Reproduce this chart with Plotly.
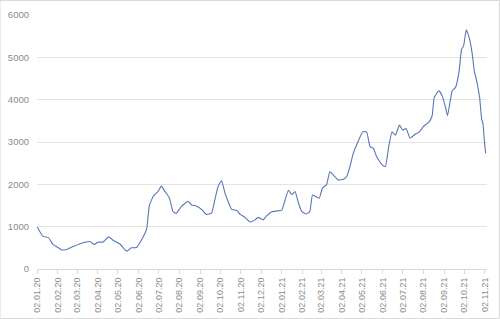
import plotly.graph_objects as go

dates = [
    "2020-01-02", "2020-01-11", "2020-01-19", "2020-01-26", "2020-02-01", "2020-02-08",
    "2020-02-15", "2020-02-25", "2020-03-11", "2020-03-21", "2020-03-28", "2020-04-02",
    "2020-04-10", "2020-04-18", "2020-04-25", "2020-05-05", "2020-05-15", "2020-05-22",
    "2020-05-30", "2020-06-06", "2020-06-14", "2020-06-18", "2020-06-24", "2020-07-01",
    "2020-07-06", "2020-07-11", "2020-07-18", "2020-07-23", "2020-07-28", "2020-08-05",
    "2020-08-15", "2020-08-20", "2020-08-27", "2020-09-04", "2020-09-11", "2020-09-19",
    "2020-09-24", "2020-09-29", "2020-10-04", "2020-10-09", "2020-10-14", "2020-10-19",
    "2020-10-27", "2020-11-01", "2020-11-08", "2020-11-16", "2020-11-23", "2020-11-28",
    "2020-12-05", "2020-12-10", "2020-12-18", "2020-12-25", "2021-01-02", "2021-01-07",
    "2021-01-12", "2021-01-17", "2021-01-22", "2021-01-27", "2021-02-01", "2021-02-08",
    "2021-02-13", "2021-02-17", "2021-02-22", "2021-02-27", "2021-03-04", "2021-03-10",
    "2021-03-15", "2021-03-20", "2021-03-28", "2021-04-04", "2021-04-09", "2021-04-14",
    "2021-04-19", "2021-04-27", "2021-05-03", "2021-05-09", "2021-05-14", "2021-05-19",
    "2021-05-24", "2021-06-01", "2021-06-06", "2021-06-11", "2021-06-16", "2021-06-21",
    "2021-06-27", "2021-07-02", "2021-07-07", "2021-07-13", "2021-07-21", "2021-07-27",
    "2021-08-02", "2021-08-10", "2021-08-15", "2021-08-18", "2021-08-25", "2021-08-30",
    "2021-09-04", "2021-09-07", "2021-09-11", "2021-09-14", "2021-09-19", "2021-09-24",
    "2021-09-28", "2021-10-01", "2021-10-05", "2021-10-10", "2021-10-14", "2021-10-17",
    "2021-10-21", "2021-10-25", "2021-10-28", "2021-10-30", "2021-11-01", "2021-11-03",
]
values = [
    1000, 770, 740, 580, 520, 450,
    460, 530, 620, 650, 580, 630,
    640, 760, 680, 590, 420, 500,
    510, 680, 950, 1500, 1720, 1830,
    1960, 1840, 1680, 1370, 1310, 1480,
    1600, 1510, 1490, 1410, 1290, 1320,
    1640, 1960, 2090, 1800, 1590, 1410,
    1380, 1290, 1220, 1110, 1160, 1220,
    1160, 1250, 1350, 1370, 1390, 1630,
    1860, 1760, 1830, 1560, 1360, 1300,
    1360, 1750, 1710, 1670, 1910, 1990,
    2300, 2220, 2100, 2120, 2180, 2420,
    2730, 3040, 3240, 3240, 2890, 2850,
    2650, 2460, 2420, 2890, 3240, 3160,
    3400, 3280, 3320, 3090, 3190, 3240,
    3370, 3470, 3620, 4050, 4210, 4090,
    3820, 3620, 3970, 4210, 4290, 4640,
    5190, 5270, 5650, 5430, 5070, 4680,
    4410, 4050, 3540, 3430, 3040, 2730,
]

tick_dates = [
    "2020-01-02", "2020-02-02", "2020-03-02", "2020-04-02", "2020-05-02", "2020-06-02",
    "2020-07-02", "2020-08-02", "2020-09-02", "2020-10-02", "2020-11-02", "2020-12-02",
    "2021-01-02", "2021-02-02", "2021-03-02", "2021-04-02", "2021-05-02", "2021-06-02",
    "2021-07-02", "2021-08-02", "2021-09-02", "2021-10-02", "2021-11-02",
]
tick_labels = [
    "02.01.20", "02.02.20", "02.03.20", "02.04.20", "02.05.20", "02.06.20",
    "02.07.20", "02.08.20", "02.09.20", "02.10.20", "02.11.20", "02.12.20",
    "02.01.21", "02.02.21", "02.03.21", "02.04.21", "02.05.21", "02.06.21",
    "02.07.21", "02.08.21", "02.09.21", "02.10.21", "02.11.21",
]
y_ticks = [0, 1000, 2000, 3000, 4000, 5000, 6000]

fig = go.Figure()
fig.add_trace(go.Scatter(
    x=dates, y=values, mode="lines",
    line=dict(color="#5577b5", width=1.1, shape="spline", smoothing=0.4),
    hoverinfo="skip",
))

fig.update_layout(
    width=500, height=319,
    margin=dict(l=37, r=13, t=15, b=50),
    paper_bgcolor="white", plot_bgcolor="white",
    showlegend=False,
    font=dict(family="Liberation Sans, Arial, sans-serif", size=10, color="#8c8c8c"),
    xaxis=dict(
        type="date", automargin=False,
        range=["2020-01-02", "2021-11-05"],
        tickmode="array", tickvals=tick_dates, ticktext=tick_labels,
        tickangle=-90,
        showgrid=False, zeroline=False,
        showline=True, linecolor="#d9d9d9", linewidth=1,
        ticks="outside", ticklen=4, tickcolor="#d9d9d9",
        tickfont=dict(size=9, color="#8c8c8c"),
    ),
    yaxis=dict(
        automargin=False,
        range=[0, 6000],
        tickmode="array", tickvals=y_ticks,
        showgrid=True, gridcolor="#e3e3e3", gridwidth=1,
        zeroline=False, showline=False,
        ticks="", ticklabelstandoff=7,
        tickfont=dict(size=9.5, color="#8c8c8c"),
    ),
    shapes=[dict(type="rect", xref="paper", yref="paper",
                 x0=-37/450, x1=1 + 12.5/450, y0=-49.5/254, y1=1 + 14.5/254,
                 line=dict(color="#d9d9d9", width=1), layer="below")],
)

fig.write_html("out.html")
